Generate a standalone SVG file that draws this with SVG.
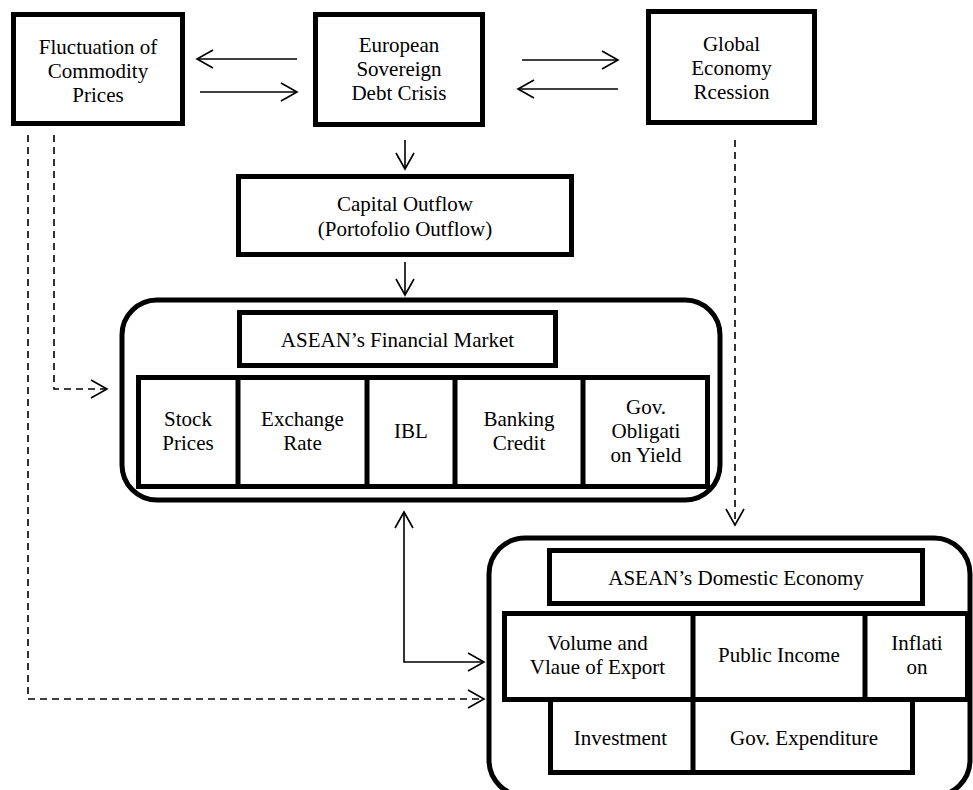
<svg xmlns="http://www.w3.org/2000/svg" width="973" height="790" viewBox="0 0 973 790">
<style>
.box{fill:#fff;stroke:#000;stroke-width:5}
.cell{fill:none;stroke:#000;stroke-width:5}
.outer{fill:#fff;stroke:#000;stroke-width:5}
.t{font-family:'Liberation Serif','DejaVu Serif','Times New Roman',serif;font-size:21px;fill:#000;text-anchor:middle}
.c{fill:none;stroke:#000;stroke-width:1.6}
.d{fill:none;stroke:#000;stroke-width:1.6;stroke-dasharray:7 5}
</style>
<defs>
<marker id="ah" markerUnits="userSpaceOnUse" markerWidth="24" markerHeight="24" viewBox="-20 -12 24 24" refX="0" refY="0" orient="auto-start-reverse">
<path d="M-16,-9 L0,0 L-16,9" fill="none" stroke="#000" stroke-width="1.6" stroke-dasharray="none"/>
</marker>
</defs>
<rect width="973" height="790" fill="#fff"/>

<g id="connectors">
<line class="c" x1="297" y1="59" x2="197" y2="59" marker-end="url(#ah)"/>
<line class="c" x1="200" y1="92" x2="297" y2="92" marker-end="url(#ah)"/>
<line class="c" x1="522" y1="60" x2="618" y2="60" marker-end="url(#ah)"/>
<line class="c" x1="618" y1="89" x2="518" y2="89" marker-end="url(#ah)"/>
<line class="c" x1="405" y1="140" x2="405" y2="169" marker-end="url(#ah)"/>
<line class="c" x1="405" y1="262" x2="405" y2="295" marker-end="url(#ah)"/>
<polyline class="d" points="54,135 54,389 107,389" marker-end="url(#ah)"/>
<polyline class="d" points="28,135 28,699 484,699" marker-end="url(#ah)"/>
<line class="d" x1="735" y1="140" x2="735" y2="525" marker-end="url(#ah)"/>
<polyline class="c" points="404,512 404,662 484,662" marker-start="url(#ah)" marker-end="url(#ah)"/>
</g>

<g id="fluctuation">
<rect class="box" x="13.5" y="14.5" width="169" height="109"/>
<text class="t" x="98" y="54">Fluctuation of</text>
<text class="t" x="98" y="78">Commodity</text>
<text class="t" x="98" y="102">Prices</text>
</g>

<g id="european">
<rect class="box" x="315.5" y="14.5" width="167" height="110"/>
<text class="t" x="399" y="52">European</text>
<text class="t" x="399" y="76">Sovereign</text>
<text class="t" x="399" y="100">Debt Crisis</text>
</g>

<g id="global">
<rect class="box" x="648.5" y="11.5" width="166" height="111"/>
<text class="t" x="731.5" y="51">Global</text>
<text class="t" x="731.5" y="75">Economy</text>
<text class="t" x="731.5" y="99">Rcession</text>
</g>

<g id="capital">
<rect class="box" x="238.5" y="176.5" width="333" height="78"/>
<text class="t" x="405" y="211">Capital Outflow</text>
<text class="t" x="405" y="236">(Portofolio Outflow)</text>
</g>

<g id="financial-market">
<rect class="outer" x="122" y="300" width="598" height="200" rx="35" ry="35"/>
<rect class="box" x="239.5" y="312.5" width="316" height="53"/>
<text class="t" x="397.5" y="347">ASEAN’s Financial Market</text>
<rect class="cell" x="138.5" y="377.5" width="569" height="109"/>
<line class="cell" x1="238" y1="377.5" x2="238" y2="486.5"/>
<line class="cell" x1="367" y1="377.5" x2="367" y2="486.5"/>
<line class="cell" x1="455" y1="377.5" x2="455" y2="486.5"/>
<line class="cell" x1="583" y1="377.5" x2="583" y2="486.5"/>
<text class="t" x="188" y="426">Stock</text>
<text class="t" x="188" y="450">Prices</text>
<text class="t" x="302.5" y="426">Exchange</text>
<text class="t" x="302.5" y="450">Rate</text>
<text class="t" x="411" y="438">IBL</text>
<text class="t" x="519" y="426">Banking</text>
<text class="t" x="519" y="450">Credit</text>
<text class="t" x="646" y="414">Gov.</text>
<text class="t" x="646" y="438">Obligati</text>
<text class="t" x="646" y="462">on Yield</text>
</g>

<g id="domestic-economy">
<rect class="outer" x="489" y="538" width="481" height="258" rx="36" ry="36"/>
<rect class="box" x="549.5" y="550.5" width="373" height="53"/>
<text class="t" x="736" y="585">ASEAN’s Domestic Economy</text>
<rect class="cell" x="504.5" y="613.5" width="463" height="86"/>
<line class="cell" x1="693" y1="613.5" x2="693" y2="772.5"/>
<line class="cell" x1="865" y1="613.5" x2="865" y2="699.5"/>
<polyline class="cell" points="550.5,699.5 550.5,772.5 912.5,772.5 912.5,699.5"/>
<text class="t" x="597.5" y="650">Volume and</text>
<text class="t" x="597.5" y="674">Vlaue of Export</text>
<text class="t" x="779" y="662">Public Income</text>
<text class="t" x="917" y="650">Inflati</text>
<text class="t" x="917" y="674">on</text>
<text class="t" x="620.5" y="745">Investment</text>
<text class="t" x="804" y="745">Gov. Expenditure</text>
</g>
</svg>
